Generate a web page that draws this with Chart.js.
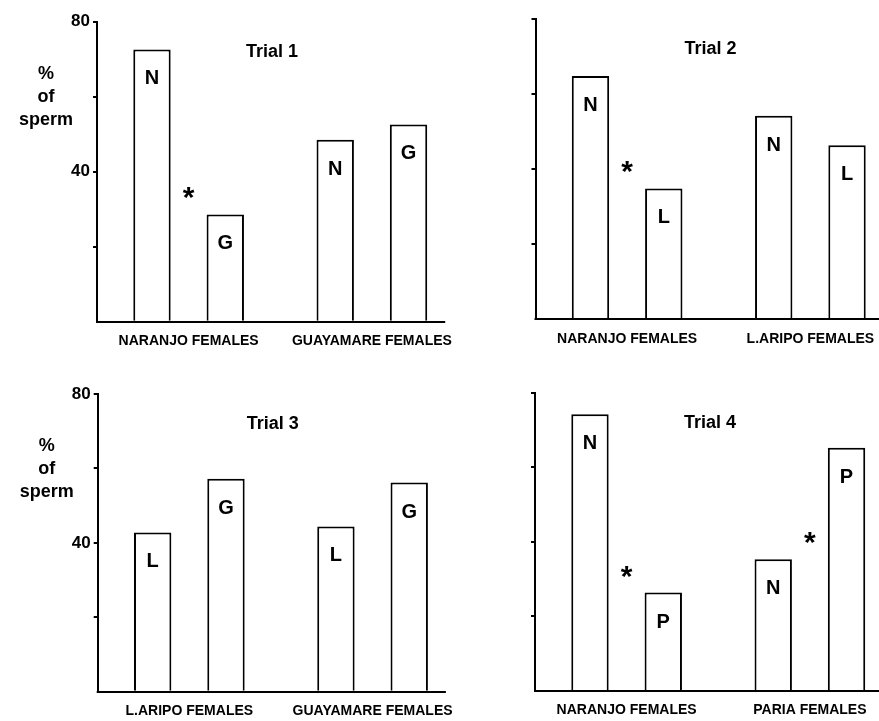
<!DOCTYPE html>
<html>
<head>
<meta charset="utf-8">
<script src="https://cdn.jsdelivr.net/npm/chart.js@4/dist/chart.umd.min.js"></script>
<style>
  html, body { margin: 0; padding: 0; background: #ffffff; width: 879px; height: 721px; overflow: hidden; }
  canvas { position: absolute; }
</style>
</head>
<body>
<canvas id="c1" width="480" height="362"></canvas>
<canvas id="c2" width="480" height="362"></canvas>
<canvas id="c3" width="480" height="370"></canvas>
<canvas id="c4" width="480" height="370"></canvas>
<script>
// ---------- data ----------
const trialTitles = ['Trial 1', 'Trial 2', 'Trial 3', 'Trial 4'];

const trial1Females = ['NARANJO FEMALES', 'GUAYAMARE FEMALES'];
const trial1Males = ['N', 'G'];
const trial1First = [72.6, 48.5];
const trial1Second = [28.6, 52.6];
const trial1Significant = [true, false];

const trial2Females = ['NARANJO FEMALES', 'L.ARIPO FEMALES'];
const trial2Males = ['N', 'L'];
const trial2First = [64.9, 54.3];
const trial2Second = [34.9, 46.4];
const trial2Significant = [true, false];

const trial3Females = ['L.ARIPO FEMALES', 'GUAYAMARE FEMALES'];
const trial3Males = ['L', 'G'];
const trial3First = [42.8, 44.4];
const trial3Second = [57.2, 56.2];
const trial3Significant = [false, false];

const trial4Females = ['NARANJO FEMALES', 'PARIA FEMALES'];
const trial4Males = ['N', 'P'];
const trial4First = [74.2, 35.3];
const trial4Second = [26.4, 65.2];
const trial4Significant = [true, true];

const yMin = 0, yMax = 80, yStep = 20;
const yLabelledTicks = [40, 80];
const yAxisTitleLines = ['%', 'of', 'sperm'];

// ---------- layout (styling only) ----------
const FONT = '"Liberation Sans", Arial, Helvetica, sans-serif';
const Y_W = 60, X_H = 40;
const panels = [
  { id: 'c1', left: 0,   top: 0,   axisX: 97,    areaW: 366.5, yTop: 21.7,  yBot: 321.7, showY: true,
    title: trialTitles[0], females: trial1Females, males: trial1Males, first: trial1First, second: trial1Second, sig: trial1Significant },
  { id: 'c2', left: 438, top: 0,   axisX: 535.5, areaW: 366.5, yTop: 19.3,  yBot: 319.3, showY: false,
    title: trialTitles[1], females: trial2Females, males: trial2Males, first: trial2First, second: trial2Second, sig: trial2Significant },
  { id: 'c3', left: 0,   top: 362, axisX: 97.7,  areaW: 366.5, yTop: 394,   yBot: 691.7, showY: true,
    title: trialTitles[2], females: trial3Females, males: trial3Males, first: trial3First, second: trial3Second, sig: trial3Significant },
  { id: 'c4', left: 438, top: 362, axisX: 535,   areaW: 366.5, yTop: 392.6, yBot: 691,   showY: false,
    title: trialTitles[3], females: trial4Females, males: trial4Males, first: trial4First, second: trial4Second, sig: trial4Significant }
];

function drawCentered(ctx, text, x, y) {
  const m = ctx.measureText(text);
  const asc = m.actualBoundingBoxAscent, desc = m.actualBoundingBoxDescent;
  ctx.fillText(text, x, y + (asc - desc) / 2);
}

const barStyle = {
  backgroundColor: '#ffffff',
  borderColor: '#000000',
  borderWidth: 2,
  borderSkipped: 'start',
  categoryPercentage: 0.8,
  barPercentage: 0.51
};

function makePanel(p) {
  const canvas = document.getElementById(p.id);
  canvas.style.left = p.left + 'px';
  canvas.style.top = p.top + 'px';
  const W = canvas.width, H = canvas.height;
  const padLeft = p.axisX - p.left - Y_W;
  const padRight = W - (p.axisX - p.left + p.areaW);
  const padTop = p.yTop - p.top;
  const padBottom = H - X_H - (p.yBot - p.top);

  const decor = {
    id: 'decor' + p.id,
    afterDatasetsDraw(chart) {
      const ctx = chart.ctx;
      const area = chart.chartArea;
      const m0 = chart.getDatasetMeta(0), m1 = chart.getDatasetMeta(1);
      ctx.save();
      ctx.fillStyle = '#000';
      ctx.textAlign = 'center';
      // baseline
      const lastBar = m1.data[m1.data.length - 1];
      const xEnd = lastBar.x + lastBar.width / 2 + 18;
      ctx.strokeStyle = '#000';
      ctx.lineWidth = 2;
      ctx.beginPath();
      ctx.moveTo(area.left - 1, Math.round(area.bottom));
      ctx.lineTo(xEnd, Math.round(area.bottom));
      ctx.stroke();
      // bar letters
      ctx.font = 'bold 20px ' + FONT;
      [m0, m1].forEach((meta, i) => {
        meta.data.forEach(bar => {
          drawCentered(ctx, p.males[i], bar.x, bar.y + 28);
        });
      });
      // significance asterisks
      ctx.font = 'bold 30px ' + FONT;
      p.sig.forEach((s, j) => {
        if (!s) return;
        const a = m0.data[j], b = m1.data[j];
        const lowerTop = Math.max(a.y, b.y);
        drawCentered(ctx, '*', (a.x + b.x) / 2, lowerTop - 21);
      });
      // trial title
      ctx.font = 'bold 18px ' + FONT;
      drawCentered(ctx, p.title, area.left + 175, area.top + 28.5);
      // y axis title
      if (p.showY) {
        ctx.font = 'bold 18px ' + FONT;
        const offs = [50.5, 73.5, 99.5];
        yAxisTitleLines.forEach((t, k) => {
          drawCentered(ctx, t, area.left - 51, area.top + offs[k]);
        });
      }
      ctx.restore();
    }
  };

  return new Chart(canvas, {
    type: 'bar',
    data: {
      labels: p.females,
      datasets: [
        Object.assign({ label: p.males[0], data: p.first }, barStyle),
        Object.assign({ label: p.males[1], data: p.second }, barStyle)
      ]
    },
    options: {
      responsive: false,
      animation: false,
      devicePixelRatio: 1,
      layout: { padding: { left: padLeft, right: padRight, top: padTop, bottom: padBottom } },
      plugins: {
        colors: { enabled: false },
        legend: { display: false },
        title: { display: false },
        tooltip: { enabled: false }
      },
      scales: {
        x: {
          type: 'category',
          offset: true,
          grid: { display: false, drawTicks: false },
          border: { display: false },
          ticks: {
            color: '#000',
            padding: 11,
            maxRotation: 0,
            autoSkip: false,
            font: { family: FONT, size: 14, weight: 'bold' }
          },
          afterFit(scale) { scale.height = X_H; }
        },
        y: {
          min: yMin,
          max: yMax,
          grid: {
            display: true,
            drawOnChartArea: false,
            drawTicks: true,
            tickLength: 4,
            lineWidth: 2,
            tickColor: (c) => (c.tick && c.tick.value === 0) ? 'rgba(0,0,0,0)' : '#000'
          },
          border: { display: true, color: '#000', width: 2 },
          ticks: {
            stepSize: yStep,
            color: '#000',
            padding: 3,
            font: { family: FONT, size: 17, weight: 'bold' },
            callback: (v) => (p.showY && yLabelledTicks.includes(v)) ? String(v) : ''
          },
          afterFit(scale) { scale.width = Y_W; }
        }
      }
    },
    plugins: [decor]
  });
}

panels.forEach(makePanel);
</script>
</body>
</html>
